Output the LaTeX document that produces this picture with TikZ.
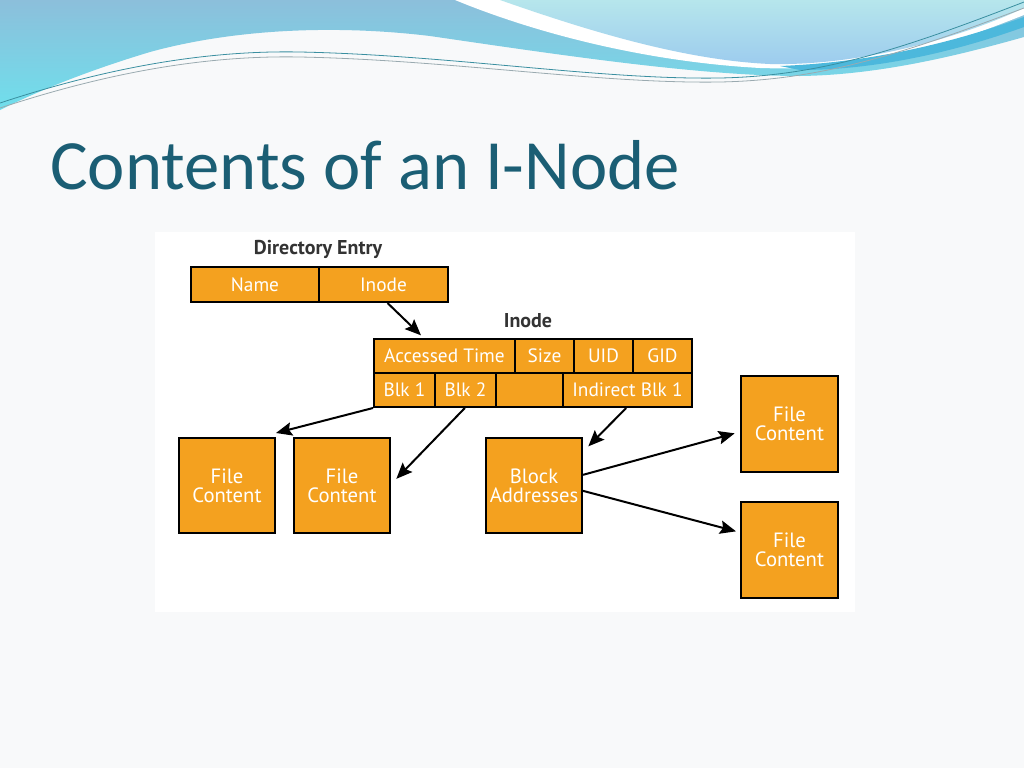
\documentclass[tikz,border=0pt]{standalone}
\usepackage{fontspec}
\setmainfont{Carlito}
\newfontfamily\diagfont{PT Sans}
\usetikzlibrary{arrows.meta}
\definecolor{orng}{HTML}{F4A11F}
\definecolor{slidebg}{HTML}{F8F9FA}
\definecolor{titlecol}{HTML}{1B5E74}
\definecolor{cyanA}{HTML}{8CBFDB}
\definecolor{cyanB}{HTML}{6FDFEC}
\definecolor{paleA}{HTML}{B6E6EC}
\definecolor{paleB}{HTML}{9CCBEE}
\definecolor{streak}{HTML}{4CB8DC}
\definecolor{lineA}{HTML}{3A8FA0}
\definecolor{lineB}{HTML}{9AAAB0}
\definecolor{lblcol}{HTML}{333333}
\begin{document}
\begin{tikzpicture}[x=0.75pt,y=-0.75pt,
  cell/.style={draw=black, line width=1.5pt, fill=orng, text=white,
    font=\diagfont\fontsize{14.5}{14.5}\selectfont, inner sep=0pt, anchor=north west, align=center},
  bigcell/.style={cell, font=\diagfont\fontsize{15.5}{14.5}\selectfont},
  lbl/.style={text=lblcol, font=\diagfont\bfseries\fontsize{15}{16}\selectfont, inner sep=0pt},
  conn/.style={line width=1.5pt, -{Stealth[length=12pt,width=10pt,inset=2pt]}}]
\useasboundingbox (0,0) rectangle (1024,768);
\fill[slidebg] (0,0) rectangle (1024,768);
% header waves
\shade[top color=cyanA, bottom color=cyanB]
  (0,0) -- (1024,0) -- (1024,37) .. controls (960,55) and (880,75) .. (800,76)
  .. controls (700,76) and (560,55) .. (430,36) .. controls (330,24) and (230,30) .. (150,52)
  .. controls (90,70) and (40,90) .. (0,110) -- cycle;
\fill[white] (455,0) .. controls (540,35) and (650,62) .. (760,68)
  .. controls (880,72) and (960,40) .. (1024,15) -- (1024,0) -- cycle;
\shade[top color=paleA, bottom color=paleB]
  (500,0) .. controls (580,28) and (680,60) .. (770,64)
  .. controls (860,66) and (960,38) .. (1024,8) -- (1024,0) -- cycle;
\fill[streak] (780,66) .. controls (880,62) and (960,40) .. (1024,17)
  -- (1024,27) .. controls (960,50) and (880,70) .. (800,70) -- cycle;
\draw[lineA, line width=0.6pt] (0,103) .. controls (100,70) and (200,50) .. (300,52)
  .. controls (450,55) and (600,80) .. (720,78) .. controls (820,76) and (900,50) .. (1024,2);
\draw[lineB, line width=0.6pt] (0,108) .. controls (100,75) and (200,55) .. (300,57)
  .. controls (450,60) and (600,84) .. (720,82) .. controls (820,80) and (900,55) .. (1024,8);
% title
\node[anchor=base west, inner sep=0pt, text=titlecol, font=\fontsize{53}{60}\selectfont] (title) at (50,189) {Contents of an I-Node};
% diagram panel
\fill[white] (155,232) rectangle (855,612);
\node[lbl] (delbl) at (318,249) {Directory Entry};
\node[cell, minimum width=96pt, minimum height=26.25pt] (name) at (190,266) {Name};
\node[cell, minimum width=96.75pt, minimum height=26.25pt] (inodeptr) at (318,266) {Inode};
\node[lbl] (inlbl) at (528,321) {Inode};
\node[cell, minimum width=105.75pt, minimum height=25.5pt] (acc) at (373,338) {Accessed Time};
\node[cell, minimum width=44.25pt, minimum height=25.5pt] (size) at (514,338) {Size};
\node[cell, minimum width=44.25pt, minimum height=25.5pt] (uid) at (573,338) {UID};
\node[cell, minimum width=44.25pt, minimum height=25.5pt] (gid) at (632,338) {GID};
\node[cell, minimum width=45.75pt, minimum height=25.5pt] (blk1) at (373,372) {Blk 1};
\node[cell, minimum width=45.75pt, minimum height=25.5pt] (blk2) at (434,372) {Blk 2};
\node[cell, minimum width=50.25pt, minimum height=25.5pt] (empty) at (495,372) {};
\node[cell, minimum width=96.75pt, minimum height=25.5pt] (ind) at (562,372) {Indirect Blk 1};
\node[bigcell, minimum width=72pt, minimum height=71.25pt] (fc1) at (178,437) {File\\Content};
\node[bigcell, minimum width=72pt, minimum height=71.25pt] (fc2) at (293,437) {File\\Content};
\node[bigcell, minimum width=72pt, minimum height=71.25pt] (ba) at (485,437) {Block\\Addresses};
\node[bigcell, minimum width=72.75pt, minimum height=72pt] (fc3) at (740,375) {File\\Content};
\node[bigcell, minimum width=72.75pt, minimum height=72pt] (fc4) at (740,501) {File\\Content};
% connectors
\draw[conn] ([xshift=3pt]inodeptr.south) -- ([xshift=36pt,yshift=2pt]acc.north west);
\draw[conn] (blk1.south west) -- ([yshift=3pt]fc1.north east);
\draw[conn] ([xshift=-0.5pt]blk2.south) -- ([xshift=4pt,yshift=5pt]fc2.east);
\draw[conn] ([xshift=-1pt]ind.south) -- ([xshift=4pt,yshift=-7pt]ba.north east);
\draw[conn] ([yshift=8pt]ba.east) -- ([xshift=-4pt,yshift=-7pt]fc3.west);
\draw[conn] ([yshift=-4pt]ba.east) -- ([xshift=-3pt,yshift=14pt]fc4.west);
\end{tikzpicture}
\end{document}
